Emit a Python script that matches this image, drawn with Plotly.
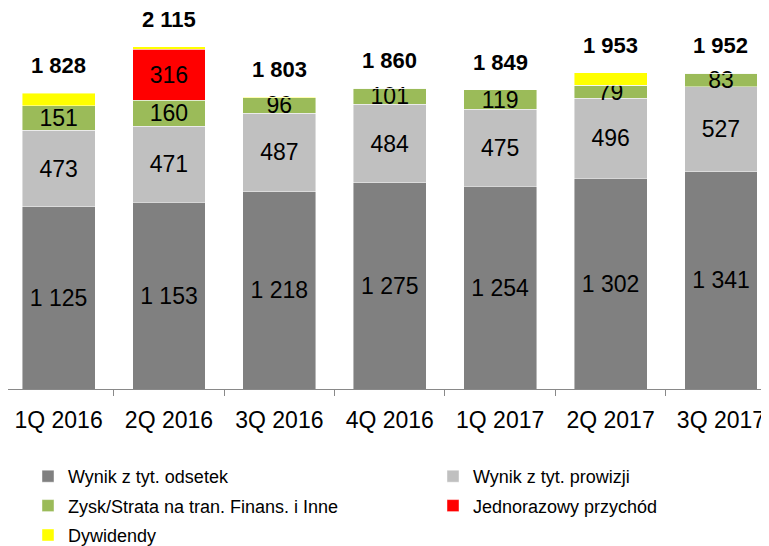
import plotly.graph_objects as go

categories = ["1Q 2016", "2Q 2016", "3Q 2016", "4Q 2016", "1Q 2017", "2Q 2017", "3Q 2017"]
odsetek = [1125, 1153, 1218, 1275, 1254, 1302, 1341]
prowizji = [473, 471, 487, 484, 475, 496, 527]
zysk = [151, 160, 96, 101, 119, 79, 83]
jednorazowy = [0, 316, 0, 0, 0, 0, 0]
dywidendy = [79, 15, 2, 0, 1, 76, 1]
totals = [1828, 2115, 1803, 1860, 1849, 1953, 1952]

names = ["Wynik z tyt. odsetek", "Wynik z tyt. prowizji", "Zysk/Strata na tran. Finans. i Inne",
         "Jednorazowy przychód", "Dywidendy"]
colors = ["#808080", "#C0C0C0", "#9BBB59", "#FF0000", "#FFFF00"]
legends = ["legend", "legend2", "legend", "legend2", "legend"]
series = [odsetek, prowizji, zysk, jednorazowy, dywidendy]
labelled = [True, True, True, True, False]

FONT = "Liberation Sans, Arial, sans-serif"
W, H = 761, 538   # page body adds an 8px offset


def fmt(v):
    return f"{v:,}".replace(",", " ")


fig = go.Figure()
for name, col, vals, lab, lg in zip(names, colors, series, labelled, legends):
    txt = [fmt(v) if (lab and v > 0) else "" for v in vals]
    fig.add_trace(go.Bar(
        x=categories, y=vals, name=name, legend=lg, legendgroup=name,
        marker=dict(color=col, line=dict(color="rgba(255,255,255,0.55)", width=0.8)),
        text=txt, textposition="inside", insidetextanchor="middle",
        constraintext="none", textangle=0, cliponaxis=False,
        textfont=dict(family=FONT, size=23, color="#000000"),
        hoverinfo="skip",
    ))

for c, t in zip(categories, totals):
    fig.add_annotation(x=c, y=t, text=f"<b>{fmt(t)}</b>", showarrow=False,
                       yanchor="bottom", yshift=13,
                       font=dict(family=FONT, size=22, color="#000000"))

legend_common = dict(
    xref="container", yref="container", xanchor="left", yanchor="top",
    orientation="v", traceorder="grouped", tracegroupgap=3,
    font=dict(family=FONT, size=18, color="#000000"),
    bgcolor="rgba(0,0,0,0)",
)

fig.update_layout(
    width=W, height=H,
    margin=dict(l=0, r=0, t=2, b=157, autoexpand=False),
    barmode="stack", bargap=0.34,
    plot_bgcolor="white", paper_bgcolor="white",
    font=dict(family=FONT, color="#000000"),
    xaxis=dict(
        type="category", range=[-0.458, 6.435], automargin=False,
        showline=True, linecolor="#898989", linewidth=1,
        ticks="outside", ticklen=6, tickcolor="#898989", tickson="boundaries",
        ticklabelstandoff=10,
        tickfont=dict(family=FONT, size=23, color="#000000"),
        showgrid=False,
    ),
    yaxis=dict(range=[0, 2342], visible=False, showgrid=False, automargin=False),
    legend=dict(x=20 / W, y=1 - 450 / H, **legend_common),
    legend2=dict(x=425 / W, y=1 - 450 / H, **legend_common),
    showlegend=True,
)

fig.write_html("out.html")
